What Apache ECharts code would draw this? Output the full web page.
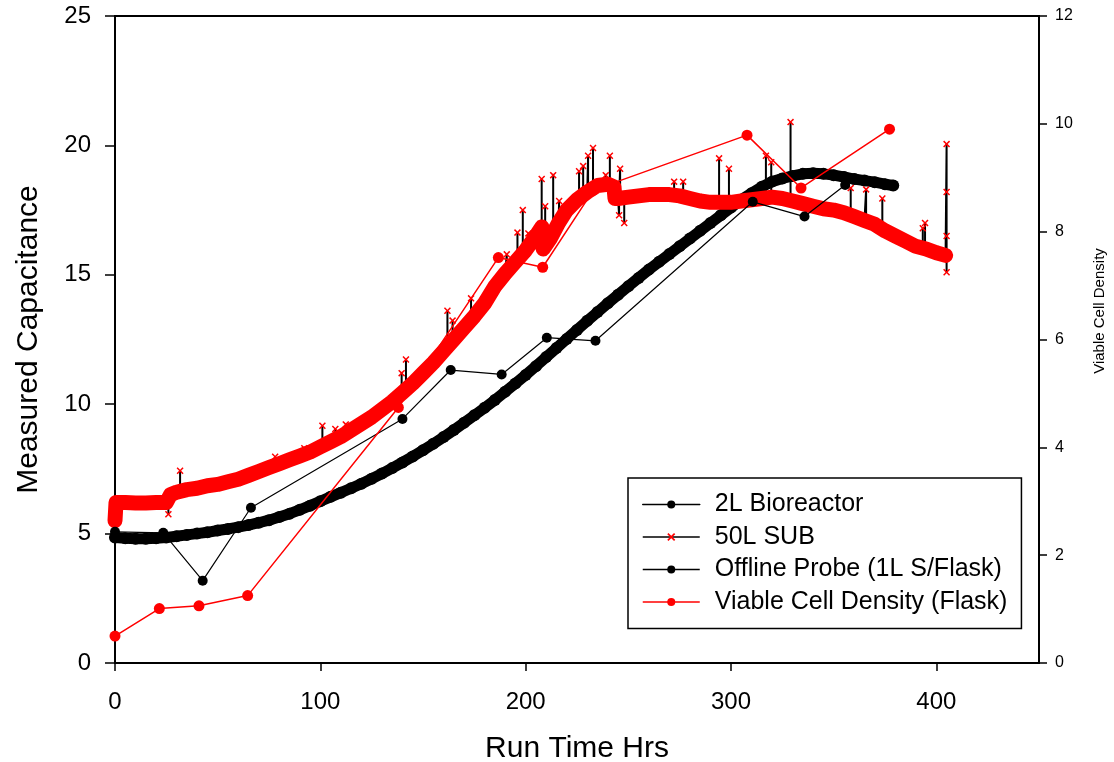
<!DOCTYPE html>
<html><head><meta charset="utf-8">
<script src="https://cdn.jsdelivr.net/npm/echarts@6/dist/echarts.min.js"></script>
<style>html,body{margin:0;padding:0;background:#fff}#c{width:1114px;height:762px}</style>
</head><body><div id="c"></div>
<script>
// ---------------- data ----------------
const xTickValues = [0, 100, 200, 300, 400];

// 2L Bioreactor: [run time hrs, capacitance]
const bio2L = [
 [0,4.85],[5,4.82],[10,4.8],[15,4.8],[20,4.82],[25,4.85],[30,4.9],[35,4.95],[40,5.0],[45,5.05],
 [50,5.12],[55,5.18],[60,5.25],[65,5.33],[70,5.42],[75,5.52],[80,5.64],[85,5.77],[90,5.92],[95,6.08],
 [100,6.25],[105,6.42],[110,6.58],[115,6.75],[120,6.93],[125,7.12],[130,7.32],[135,7.53],[140,7.75],[145,7.98],
 [150,8.22],[155,8.47],[160,8.73],[165,9.0],[170,9.28],[175,9.57],[180,9.86],[185,10.16],[190,10.48],[195,10.8],
 [200,11.13],[205,11.47],[210,11.82],[215,12.17],[220,12.52],[225,12.87],[230,13.22],[235,13.56],[240,13.9],[245,14.23],
 [250,14.56],[255,14.88],[260,15.2],[265,15.5],[270,15.8],[275,16.1],[280,16.4],[285,16.7],[290,17.0],[295,17.3],
 [300,17.6],[305,17.9],[310,18.15],[315,18.4],[320,18.6],[325,18.72],[330,18.82],[335,18.9],[340,18.92],[345,18.9],
 [350,18.85],[355,18.78],[360,18.7],[365,18.64],[370,18.58],[375,18.5],[379,18.45]
];

// 50L SUB: main trace [hrs, capacitance]
const sub50Base = [
 [0,5.5],[0.5,6.2],[5,6.2],[10,6.18],[15,6.18],[20,6.2],[25,6.2],[27,6.5],[30,6.6],[35,6.7],[40,6.75],
 [45,6.85],[50,6.9],[55,7.0],[60,7.1],[65,7.25],[70,7.4],[75,7.55],[80,7.7],[85,7.85],[90,8.0],
 [95,8.15],[100,8.35],[105,8.55],[110,8.75],[115,9.0],[120,9.25],[125,9.5],[130,9.8],[135,10.1],[140,10.45],
 [145,10.8],[150,11.2],[155,11.6],[160,12.05],[165,12.5],[170,12.95],[175,13.4],[180,13.9],[185,14.55],[190,15.05],
 [195,15.5],[200,15.95],[205,16.5],[207.9,16.85],[208.5,16.0],[212,16.4],[216,17.0],[220,17.5],[225,17.9],[230,18.2],
 [235,18.45],[240,18.5],[243,18.4],[243.5,17.95],[245,17.95],[250,18.0],[255,18.05],[260,18.1],[265,18.1],[270,18.1],
 [275,18.05],[280,17.95],[285,17.85],[290,17.8],[295,17.8],[300,17.8],[305,17.85],[310,17.9],[315,17.95],[320,18.0],
 [325,17.95],[330,17.85],[335,17.75],[340,17.65],[345,17.55],[350,17.5],[355,17.4],[360,17.25],[365,17.1],[370,16.95],
 [375,16.7],[380,16.5],[385,16.3],[390,16.1],[395,16.0],[400,15.85],[404.5,15.75]
];
// 50L SUB spikes: [hrs, trace level, spike tip]
const sub50Spikes = [
 [26,6.2,5.75],[31.7,6.6,7.43],[71.7,7.4,7.56],[78,7.6,7.97],[92.2,8.05,8.3],[101,8.4,9.17],[107.3,8.6,9.04],
 [112.4,8.85,9.22],[139.6,10.4,11.2],[141.7,10.55,11.73],[161.9,12.2,13.61],[164.4,12.45,13.23],[173.4,13.25,14.09],
 [190.8,15.1,15.79],[196,15.6,16.63],[198.6,15.8,17.5],[201.3,16.05,16.6],[207.8,16.8,18.7],[209.5,16.1,17.65],
 [213.4,16.6,18.85],[216.3,17.0,17.85],[226,17.95,19.0],[228,18.05,19.2],[230.4,18.2,19.6],[232.8,18.35,19.9],
 [239,18.5,18.85],[241,18.45,19.6],[245.5,17.95,17.3],[246,17.95,19.1],[248,17.95,17.0],[272.3,18.1,18.6],
 [276.7,18.05,18.6],[294.2,17.8,19.5],[299,17.8,19.1],[317,17.95,19.6],[319.6,18.0,19.35],[329,17.85,20.9],
 [358.3,17.3,18.35],[365.8,17.1,18.3],[373.7,16.8,17.95],[393.4,16.05,16.8],[394.5,16.0,17.0]
];
// 50L SUB final readings at the end of the run
const sub50Tail = [[405,20.05],[405,18.2],[405,16.5],[405,15.1]];

// Offline Probe (1L S/Flask): [hrs, capacitance]
const offlineProbe = [
 [0,5.07],[23.5,5.03],[42.7,3.18],[66.2,6.0],[140,9.43],[163.5,11.32],[188.3,11.15],
 [210.3,12.57],[234,12.45],[310.6,17.82],[335.8,17.25],[355.6,18.47]
];

// Viable Cell Density (Flask): [hrs, VCD] on right axis
const vcdFlask = [
 [0,0.5],[21.6,1.01],[40.9,1.06],[64.6,1.25],[138,4.74],[186.7,7.52],[208.3,7.34],
 [233,8.77],[307.8,9.79],[334.1,8.81],[377.2,9.9]
];

// ---------------- build ----------------
const FONT = "'Liberation Sans', Arial, sans-serif";
const sub50Line = [];
sub50Base.forEach(p => sub50Line.push({t:p[0], v:p[1]}));
sub50Spikes.forEach(s => {
  sub50Line.push({t:s[0], v:s[1]});
  sub50Line.push({t:s[0], v:s[2]});
  sub50Line.push({t:s[0], v:s[1]});
});
const sub50Sorted = sub50Line.map((p,i)=>({...p,i})).sort((a,b)=> a.t-b.t || a.i-b.i).map(p=>[p.t,p.v]);
sub50Tail.forEach(p => sub50Sorted.push(p));

const xSymbol = 'path://M0,1.5 L1.5,0 L5,3.5 L8.5,0 L10,1.5 L6.5,5 L10,8.5 L8.5,10 L5,6.5 L1.5,10 L0,8.5 L3.5,5 Z';

const chart = echarts.init(document.getElementById('c'), null, {renderer:'canvas'});
chart.setOption({
  animation: false,
  backgroundColor: '#fff',
  textStyle: {fontFamily: FONT},
  grid: {left:115, right:75, top:16, bottom:99, show:true, borderColor:'#000', borderWidth:2, containLabel:false, outerBoundsMode:'none'},
  legend: {
    orient:'vertical', left:628, top:478, padding:[14,14,14,14],
    itemWidth:57, itemHeight:10, itemGap:7.5,
    borderColor:'#000', borderWidth:1.5, backgroundColor:'#fff',
    textStyle:{fontFamily:FONT, fontSize:25, color:'#000', padding:[0,0,0,10]},
    lineStyle:{width:1.5},
    selectedMode:false,
    data:['2L Bioreactor','50L SUB','Offline Probe (1L S/Flask)','Viable Cell Density (Flask)']
  },
  xAxis: {
    type:'value', min:0, max:450, interval:100,
    name:'Run Time Hrs', nameLocation:'middle', nameGap:71,
    nameTextStyle:{fontFamily:FONT, fontSize:30, color:'#000'},
    axisLine:{show:true, lineStyle:{color:'#000', width:2}},
    axisTick:{show:true, length:8, lineStyle:{color:'#000', width:1.5}, customValues:xTickValues},
    axisLabel:{fontFamily:FONT, fontSize:24, color:'#000', margin:27, customValues:xTickValues},
    splitLine:{show:false}
  },
  yAxis: [{
    type:'value', min:0, max:25, interval:5, position:'left',
    name:'Measured Capacitance', nameLocation:'middle', nameGap:71,
    nameTextStyle:{fontFamily:FONT, fontSize:30, color:'#000'},
    axisLine:{show:true, lineStyle:{color:'#000', width:2}},
    axisTick:{show:true, length:10, lineStyle:{color:'#000', width:1.5}},
    axisLabel:{fontFamily:FONT, fontSize:24, color:'#000', margin:24},
    splitLine:{show:false}
  },{
    type:'value', min:0, max:12, interval:2, position:'right',
    axisLine:{show:true, lineStyle:{color:'#000', width:2}},
    axisTick:{show:true, length:8, lineStyle:{color:'#000', width:1.5}},
    axisLabel:{fontFamily:FONT, fontSize:16, color:'#000', margin:16},
    splitLine:{show:false}
  }],
  graphic: [{
    type:'text', x:1100, y:311, rotation:Math.PI/2,
    style:{text:'Viable Cell Density', fontFamily:FONT, fontSize:15, fill:'#000', align:'center', verticalAlign:'middle'}
  }],
  series: [
    {
      name:'2L Bioreactor', type:'line', data:bio2L, z:2,
      symbol:'circle', symbolSize:12, showSymbol:true, showAllSymbol:true,
      itemStyle:{color:'#000'}, lineStyle:{color:'#000', width:11, cap:'round', join:'round'}
    },
    {
      name:'50L SUB', type:'line', data:sub50Sorted, z:2,
      symbol:xSymbol, symbolSize:7, showSymbol:true, showAllSymbol:true,
      itemStyle:{color:'#ff0000'}, lineStyle:{color:'#000', width:2}
    },
    {
      name:'50L SUB trace', type:'line', data:sub50Base, z:3, silent:true,
      symbol:'none', itemStyle:{color:'#ff0000'},
      lineStyle:{color:'#ff0000', width:15, cap:'round', join:'round'}
    },
    {
      name:'Offline Probe (1L S/Flask)', type:'line', data:offlineProbe, z:4,
      symbol:'circle', symbolSize:10, showAllSymbol:true,
      itemStyle:{color:'#000'}, lineStyle:{color:'#000', width:1.2}
    },
    {
      name:'Viable Cell Density (Flask)', type:'line', data:vcdFlask, yAxisIndex:1, z:4,
      symbol:'circle', symbolSize:11, showAllSymbol:true,
      itemStyle:{color:'#ff0000'}, lineStyle:{color:'#ff0000', width:1.5}
    }
  ]
});
</script>
</body></html>
